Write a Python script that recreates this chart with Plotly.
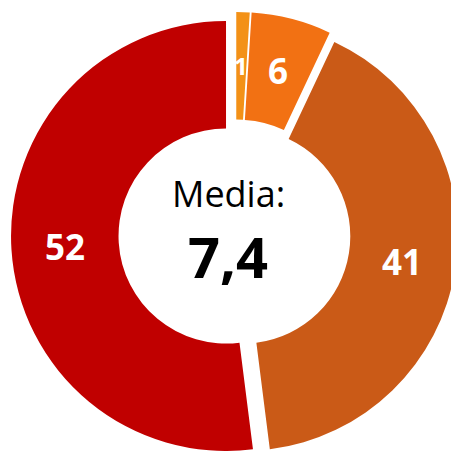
import math
import plotly.graph_objects as go

# ---- data ----
labels = ["1", "6", "41", "52"]
values = [1, 6, 41, 52]
colors = ["#F39117", "#F27113", "#CA5A17", "#C00000"]
center_title = "Media:"
center_value = "7,4"

# ---- layout constants (pixels, in window coordinates) ----
PAGE_OFF = 8              # default body margin of the page
W, H = 459 - PAGE_OFF, 451 - PAGE_OFF
R = 215.0                 # outer radius
HOLE = 0.5
CX, CY = 236.0, 235.4     # pie centre
explode_px = [8.4, 8.5, 7.0, 10.0]   # per-slice explosion distance
label_size = [24, 35, 35, 35]
# narrow slices get their label as an annotation at the ring's mid radius
annotated = [True, True, False, False]


def px(x):
    return (x - PAGE_OFF) / W


def py(y):
    return 1 - (y - PAGE_OFF) / H


fig = go.Figure()
total = sum(values)
cum = 0.0
for i, v in enumerate(values):
    mid = (cum + v / 2) / total * 2 * math.pi   # clockwise from top
    cum += v
    sx = CX + explode_px[i] * math.sin(mid)
    sy = CY - explode_px[i] * math.cos(mid)
    x0 = max(0.0, px(sx - R))
    x1 = min(1.0, px(sx + R))
    y0 = max(0.0, py(sy + R))
    y1 = min(1.0, py(sy - R))
    cols = [c if j == i else "rgba(0,0,0,0)" for j, c in enumerate(colors)]
    texts = [labels[j] if (j == i and not annotated[j]) else "" for j in range(len(values))]
    fig.add_trace(go.Pie(
        values=values,
        labels=labels,
        text=texts,
        textinfo="text",
        textposition="inside",
        insidetextorientation="horizontal",
        sort=False,
        direction="clockwise",
        rotation=0,
        hole=HOLE,
        marker=dict(colors=cols, line=dict(width=0)),
        textfont=dict(family="Open Sans", size=label_size[i], color="white", weight="bold"),
        domain=dict(x=[x0, x1], y=[y0, y1]),
        showlegend=False,
        hoverinfo="skip",
    ))
    if annotated[i]:
        rm = R * (1 + HOLE) / 2
        fig.add_annotation(text="<b>" + labels[i] + "</b>",
                           x=px(sx + rm * math.sin(mid)), y=py(sy - rm * math.cos(mid)),
                           xref="paper", yref="paper", showarrow=False,
                           xanchor="center", yanchor="middle",
                           font=dict(family="Open Sans", size=label_size[i], color="white"))

fig.add_annotation(text=center_title, x=px(228), y=py(193), xref="paper", yref="paper",
                   showarrow=False, xanchor="center", yanchor="middle",
                   font=dict(family="Open Sans", size=36, color="black"))
fig.add_annotation(text="<b>" + center_value + "</b>", x=px(228), y=py(256),
                   xref="paper", yref="paper", showarrow=False,
                   xanchor="center", yanchor="middle",
                   font=dict(family="Open Sans", size=56, color="black"))

fig.update_layout(width=W, height=H, margin=dict(l=0, r=0, t=0, b=0),
                  paper_bgcolor="white", plot_bgcolor="white")
fig.write_html("out.html")
